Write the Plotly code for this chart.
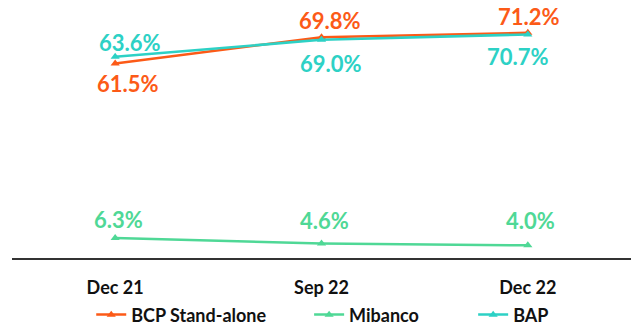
import plotly.graph_objects as go

categories = ["Dec 21", "Sep 22", "Dec 22"]
bcp = [61.5, 69.8, 71.2]
mibanco = [6.3, 4.6, 4.0]
bap = [63.6, 69.0, 70.7]

c_bcp = "#FC5A17"
c_mib = "#4FD896"
c_bap = "#2DD1C5"

font_fam = "Lato, 'Open Sans', sans-serif"

# label offsets (pixels) per point: (xshift, yshift)
bcp_shift = [(13, -20), (8, 17), (1, 16)]
mib_shift = [(3, 19), (3, 23), (3, 25)]
bap_shift = [(15, 14), (9, -24), (-10, -22)]

fig = go.Figure()

def add(name, vals, color, shifts, legend):
    fig.add_trace(go.Scatter(
        x=categories, y=vals, name=name, mode="lines+markers",
        line=dict(color=color, width=2.5),
        marker=dict(symbol="triangle-up", size=8, color=color),
        legend=legend, cliponaxis=False,
    ))
    for c, v, (dx, dy) in zip(categories, vals, shifts):
        fig.add_annotation(x=c, y=v, text=f"<b>{v:.1f}%</b>", showarrow=False,
                           xshift=dx, yshift=dy,
                           font=dict(family=font_fam, size=22, color=color))

add("BCP Stand-alone", bcp, c_bcp, bcp_shift, "legend")
add("Mibanco", mibanco, c_mib, mib_shift, "legend2")
add("BAP", bap, c_bap, bap_shift, "legend3")

leg_common = dict(orientation="h", yanchor="middle", y=-0.225, xanchor="left",
                  font=dict(family=font_fam, size=18, color="#111", weight="bold"),
                  bgcolor="rgba(0,0,0,0)")

fig.update_layout(
    width=631, height=327,
    margin=dict(l=12, r=0, t=5, b=69, autoexpand=False),
    paper_bgcolor="white", plot_bgcolor="white",
    showlegend=True,
    legend=dict(x=0.128, **leg_common),
    legend2=dict(x=0.48, **leg_common),
    legend3=dict(x=0.745, **leg_common),
    xaxis=dict(type="category", range=[-0.5, 2.5], showgrid=False, zeroline=False,
               showline=True, linecolor="#333", linewidth=2, ticks="",
               ticklabelstandoff=12, automargin=False,
               tickfont=dict(family=font_fam, size=18, color="#111", weight="bold")),
    yaxis=dict(range=[0, 80], visible=False, showgrid=False, zeroline=False, automargin=False),
)

fig.write_html("out.html", config={"displayModeBar": False},
               post_script="document.body.style.margin='0';window.dispatchEvent(new Event('resize'));")
